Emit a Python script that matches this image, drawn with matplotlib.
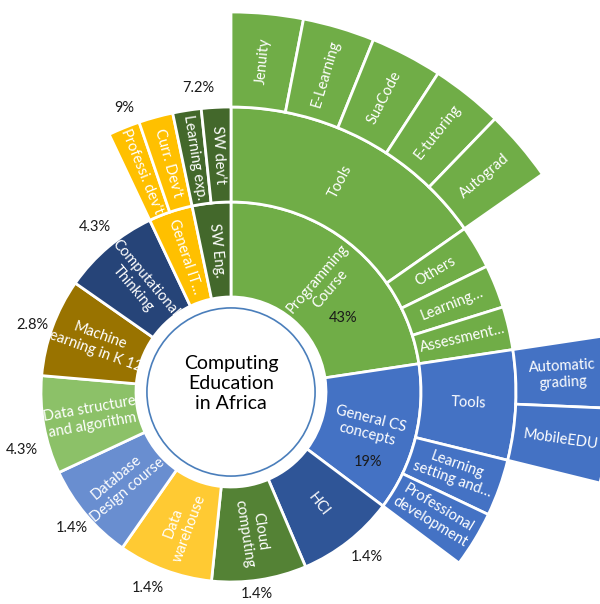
import numpy as np
import matplotlib
matplotlib.use("Agg")
import matplotlib.pyplot as plt
from matplotlib.patches import Wedge, Circle

plt.rcParams['font.family'] = ['Lato', 'DejaVu Sans']

# ---------------- data ----------------
center_title = "Computing\nEducation\nin Africa"

leaf_l1 = (["Programming Course"] * 8 + ["General CS concepts"] * 4 +
           ["HCI", "Cloud computing", "Data warehouse", "Database Design course",
            "Data structure and algorithm", "Machine learning in K 12",
            "Computational Thinking"] +
           ["General IT…"] * 2 + ["SW Eng."] * 2)
leaf_l2 = (["Tools"] * 5 + ["Others", "Learning…", "Assessment…"] +
           ["Tools", "Tools", "Learning setting and…", "Professional development"] +
           [None] * 7 +
           ["Professi. dev't", "Curr. Dev't", "Learning exp.", "SW dev't"])
leaf_l3 = (["Jenuity", "E-Learning", "SuaCode", "E-tutoring", "Autograd"] +
           [None] * 3 + ["Automatic grading", "MobileEDU"] + [None] * 2 +
           [None] * 7 + [None] * 4)
leaf_values = [11, 11, 11, 11, 11, 8.8, 8.8, 8.8,
               11, 11.4, 11.6, 11.4,
               30, 29, 29, 30, 30, 30, 29.7,
               6.5, 7, 5.8, 6]

display_names = {
    "Programming Course": "Programming\nCourse",
    "General CS concepts": "General CS\nconcepts",
    "Cloud computing": "Cloud\ncomputing",
    "Data warehouse": "Data\nwarehouse",
    "Database Design course": "Database\nDesign course",
    "Data structure and algorithm": "Data structure\nand algorithm",
    "Machine learning in K 12": "Machine\nlearning in K 12",
    "Computational Thinking": "Computational\nThinking",
    "Automatic grading": "Automatic\ngrading",
    "Learning setting and…": "Learning\nsetting and…",
    "Professional development": "Professional\ndevelopment",
}

category_colors = {
    "Programming Course": "#70AD47",
    "General CS concepts": "#4472C4",
    "HCI": "#2F5597",
    "Cloud computing": "#548235",
    "Data warehouse": "#FFCA33",
    "Database Design course": "#698ED0",
    "Data structure and algorithm": "#8CC168",
    "Machine learning in K 12": "#997300",
    "Computational Thinking": "#264478",
    "General IT…": "#FFC000",
    "SW Eng.": "#43682B",
}

pct_labels = ["43%", "19%", "1.4%", "1.4%", "1.4%", "1.4%", "4.3%",
              "2.8%", "4.3%", "9%", "7.2%"]
# label placement (angle in degrees, radius in ring units)
pct_layout = [(33.5, 1.41), (-27.1, 1.62), (-50.5, 2.25), (-82.6, 2.14),
              (-113.0, 2.24), (-139.5, 2.20), (-164.5, 2.28), (161.4, 2.21),
              (129.5, 2.25), (110.6, 3.19), (96.2, 3.22)]

# ---------------- figure ----------------
PX = 95.0          # pixels per ring unit
CX, CY = 231, 392  # center in pixels
W, H = 600, 604
fig = plt.figure(figsize=(W / 100, H / 100), dpi=100)
ax = fig.add_axes([0, 0, 1, 1])
ax.set_xlim(-CX / PX, (W - CX) / PX)
ax.set_ylim(-(H - CY) / PX, CY / PX)
ax.axis('off')

vals = np.asarray(leaf_values, float)
span = vals * 360.0 / vals.sum()
ends = 90.0 - np.cumsum(span)
starts = ends + span
levels = [leaf_l1, leaf_l2, leaf_l3]
n = len(vals)


def key_of(i, depth):
    return tuple(levels[d][i] for d in range(depth + 1))


for depth in range(3):
    i = 0
    while i < n:
        name = levels[depth][i]
        if name is None:
            i += 1
            continue
        key = key_of(i, depth)
        j = i
        while j + 1 < n and key_of(j + 1, depth) == key:
            j += 1
        t1, t2 = ends[j], starts[i]
        color = category_colors[leaf_l1[i]]
        r_out = depth + 2
        ax.add_patch(Wedge((0, 0), r_out, t1, t2, width=1.0,
                           facecolor=color, edgecolor='white', linewidth=2.0))
        mid = (t1 + t2) / 2.0
        m = ((mid + 180) % 360) - 180
        rot = m if -90 <= m <= 90 else (m - 180 if m > 90 else m + 180)
        rr = depth + 1.5
        ax.text(rr * np.cos(np.radians(mid)), rr * np.sin(np.radians(mid)),
                display_names.get(name, name), rotation=rot,
                rotation_mode='anchor', ha='center', va='center',
                color='white', fontsize=10.5, linespacing=1.2)
        i = j + 1

ax.add_patch(Circle((0, 0), 0.885, facecolor='white', edgecolor='#4A7EBB',
                    linewidth=1.2))
ax.text(0, 0.09, center_title, ha='center', va='center', fontsize=14,
        color='black', linespacing=1.2)

for txt, (ang, rad) in zip(pct_labels, pct_layout):
    ax.text(rad * np.cos(np.radians(ang)), rad * np.sin(np.radians(ang)), txt,
            ha='center', va='center', fontsize=10.5, color='#1a1a1a')

fig.savefig('out.png', dpi=100)
